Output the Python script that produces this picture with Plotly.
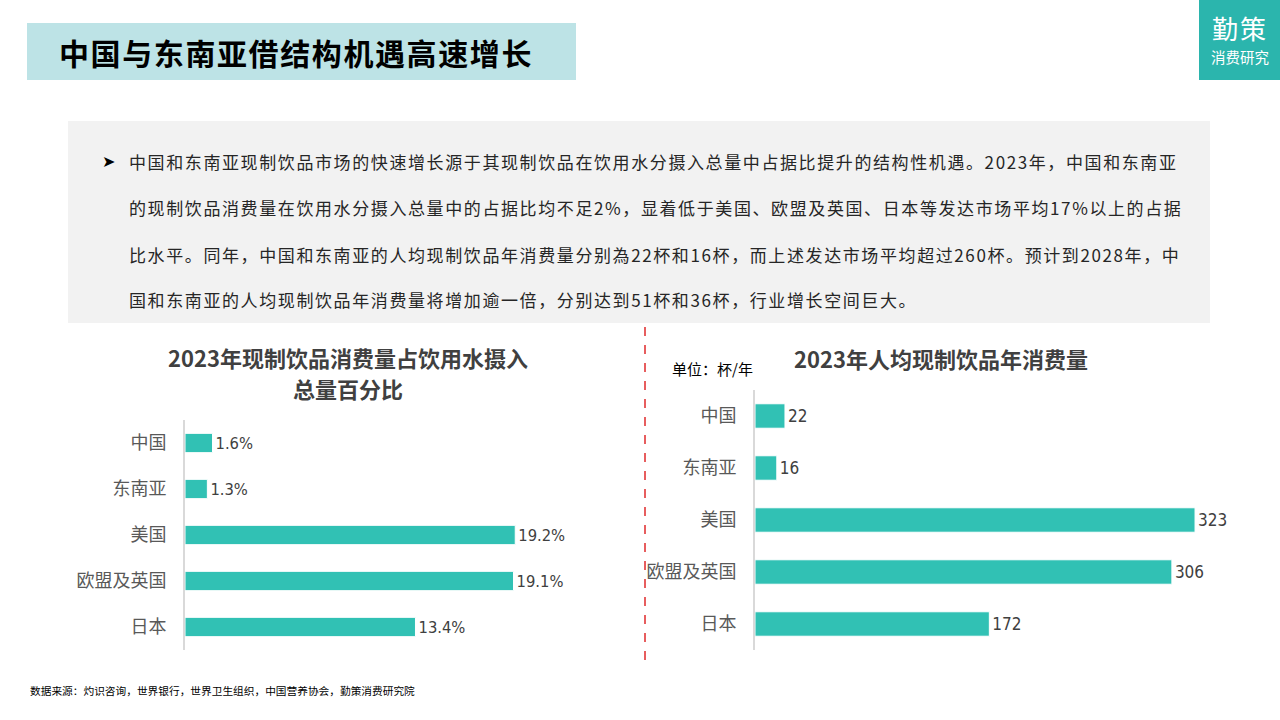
import plotly.graph_objects as go

# ---------------- data ----------------
categories = ["中国", "东南亚", "美国", "欧盟及英国", "日本"]
share_pct = [1.6, 1.3, 19.2, 19.1, 13.4]          # 2023 share of total water intake (%)
cups_per_year = [22, 16, 323, 306, 172]            # 2023 per-capita cups / year

page_title = "中国与东南亚借结构机遇高速增长"
left_title = ["2023年现制饮品消费量占饮用水摄入", "总量百分比"]
right_title = "2023年人均现制饮品年消费量"
unit_text = "单位：杯/年"
paragraph_lines = [
    "中国和东南亚现制饮品市场的快速增长源于其现制饮品在饮用水分摄入总量中占据比提升的结构性机遇。2023年，中国和东南亚",
    "的现制饮品消费量在饮用水分摄入总量中的占据比均不足2%，显着低于美国、欧盟及英国、日本等发达市场平均17%以上的占据",
    "比水平。同年，中国和东南亚的人均现制饮品年消费量分别為22杯和16杯，而上述发达市场平均超过260杯。预计到2028年，中",
    "国和东南亚的人均现制饮品年消费量将增加逾一倍，分别达到51杯和36杯，行业增长空间巨大。",
]
source_text = "数据来源：灼识咨询，世界银行，世界卫生组织，中国营养协会，勤策消费研究院"
logo_big = "勤策"
logo_small = "消费研究"

# ---------------- style ----------------
W, H = 1280, 720
TEAL = "#31c1b4"
CJK = "Noto Sans CJK SC"
NARROW = "Liberation Sans Narrow, DejaVu Sans Condensed, Noto Sans CJK SC, sans-serif"
MIXED = "Liberation Sans Narrow, Noto Sans CJK SC, sans-serif"


def px(x):
    return x / W


def py(y):
    return 1 - y / H


fig = go.Figure()

fig.add_trace(go.Bar(
    y=categories, x=share_pct, orientation="h", xaxis="x", yaxis="y",
    width=0.42,
    marker=dict(color=TEAL, line=dict(color="white", width=1)),
    text=[f"{v:.1f}%" for v in share_pct], textposition="outside",
    textfont=dict(family=NARROW, size=17, color="#404040"),
    cliponaxis=False, hoverinfo="skip", showlegend=False,
))
fig.add_trace(go.Bar(
    y=categories, x=cups_per_year, orientation="h", xaxis="x2", yaxis="y2",
    width=0.47,
    marker=dict(color=TEAL, line=dict(color="white", width=1)),
    text=[str(v) for v in cups_per_year], textposition="outside",
    textfont=dict(family=NARROW, size=17, color="#404040"),
    cliponaxis=False, hoverinfo="skip", showlegend=False,
))

yaxis_common = dict(
    autorange="reversed", showgrid=False, zeroline=False,
    showline=True, linecolor="#d9d9d9", linewidth=2,
    ticks="", ticklabelstandoff=13,
    tickfont=dict(family=CJK, size=18, color="#595959"),
    fixedrange=True,
)

fig.update_layout(
    width=W, height=H,
    margin=dict(l=0, r=0, t=0, b=0),
    paper_bgcolor="white", plot_bgcolor="rgba(0,0,0,0)",
    xaxis=dict(domain=[px(185), px(615)], range=[0, 25], visible=False, fixedrange=True),
    yaxis=dict(domain=[py(650), py(420)], anchor="x", **yaxis_common),
    xaxis2=dict(domain=[px(755), px(1240)], range=[0, 356], visible=False, fixedrange=True, anchor="y2"),
    yaxis2=dict(domain=[py(650), py(390)], anchor="x2", **yaxis_common),
)

shapes = [
    # title box
    dict(type="rect", xref="paper", yref="paper", x0=px(27), x1=px(576), y0=py(80), y1=py(23),
         fillcolor="#bde3e6", line=dict(width=0), layer="below"),
    # logo box
    dict(type="rect", xref="paper", yref="paper", x0=px(1199), x1=px(1280), y0=py(80), y1=py(0),
         fillcolor="#2bb5ad", line=dict(width=0), layer="below"),
    # grey text box
    dict(type="rect", xref="paper", yref="paper", x0=px(68), x1=px(1210), y0=py(323), y1=py(121),
         fillcolor="#f2f2f2", line=dict(width=0), layer="below"),
    # red dashed divider
    dict(type="line", xref="paper", yref="paper", x0=px(645), x1=px(645), y0=py(660), y1=py(323),
         line=dict(color="#e0282a", width=1.5, dash="dash")),
]

annotations = [
    dict(text=f'<span style="letter-spacing:1.6px"><b>{page_title}</b></span>',
         x=px(57), y=py(52), xanchor="left", yanchor="middle",
         font=dict(family=CJK, size=30, color="#000000")),
    dict(text=f'<span style="letter-spacing:2px">{logo_big}</span>',
         x=px(1240), y=py(28), xanchor="center", yanchor="middle",
         font=dict(family=CJK, size=26, color="white")),
    dict(text=logo_small, x=px(1240), y=py(57), xanchor="center", yanchor="middle",
         font=dict(family=CJK, size=14.5, color="white")),
    dict(text="➤", x=px(100), y=py(162), xanchor="left", yanchor="middle",
         font=dict(family="DejaVu Sans", size=16, color="#000000")),
    dict(text=f"<b>{left_title[0]}</b>", x=px(348), y=py(357), xanchor="center", yanchor="middle",
         font=dict(family=MIXED, size=22, color="#404040")),
    dict(text=f"<b>{left_title[1]}</b>", x=px(348), y=py(388), xanchor="center", yanchor="middle",
         font=dict(family=MIXED, size=22, color="#404040")),
    dict(text=f"<b>{right_title}</b>", x=px(941), y=py(358), xanchor="center", yanchor="middle",
         font=dict(family=MIXED, size=22, color="#404040")),
    dict(text=unit_text, x=px(670), y=py(369), xanchor="left", yanchor="middle",
         font=dict(family=CJK, size=15, color="#000000")),
    dict(text=source_text, x=px(28), y=py(690), xanchor="left", yanchor="middle",
         font=dict(family=CJK, size=10.7, color="#000000")),
]

line_ys = [162, 208, 254, 299]
for txt, yy in zip(paragraph_lines, line_ys):
    annotations.append(dict(
        text=f'<span style="letter-spacing:1.6px">{txt}</span>',
        x=px(127), y=py(yy), xanchor="left", yanchor="middle",
        font=dict(family=MIXED, size=17, color="#262626"),
    ))

for a in annotations:
    a.setdefault("xref", "paper")
    a.setdefault("yref", "paper")
    a["showarrow"] = False

fig.update_layout(shapes=shapes, annotations=annotations)

fig.write_html(
    "out.html",
    config={"displayModeBar": False, "staticPlot": True},
    post_script="document.body.style.margin='0';document.body.style.padding='0';",
)
